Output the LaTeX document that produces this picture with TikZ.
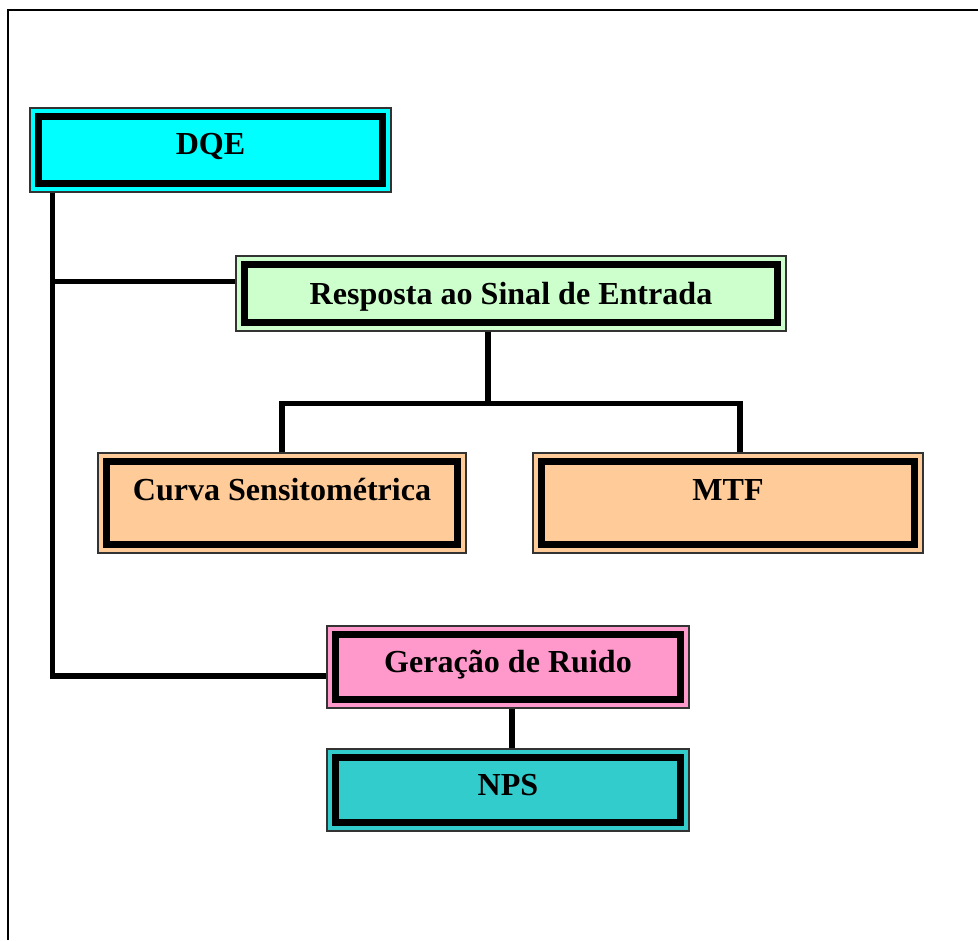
\documentclass[tikz,border=0pt]{standalone}
\usepackage{fontspec}
\setmainfont{Liberation Serif}
\usepackage{tikz}
\usetikzlibrary{calc}
\definecolor{dcyan}{HTML}{00FFFF}
\definecolor{lgreen}{HTML}{CCFFCC}
\definecolor{lpeach}{HTML}{FFCC99}
\definecolor{lpink}{HTML}{FF99CC}
\definecolor{dteal}{HTML}{33CCCC}
\definecolor{dgray}{HTML}{333333}

\begin{document}
\begin{tikzpicture}[x=0.025cm, y=-0.025cm,
    box/.style={rectangle, draw=dgray, line width=0.8pt, align=center, inner sep=0pt,
        font=\fontsize{22.8}{27}\selectfont\bfseries, text height=16pt, text depth=4pt,
        path picture={\draw[line width=4.8pt, black]
            ([xshift=5.8pt, yshift=-5.8pt]path picture bounding box.north west) rectangle
            ([xshift=-5.8pt, yshift=5.8pt]path picture bounding box.south east);}},
    lift/.style={text depth=#1},
    conn/.style={line width=4pt, black},
]
\useasboundingbox (0,0) rectangle (978,940);

% Frame
\draw[line width=1.4pt] (978,10) -- (8,10) -- (8,940);

% Boxes
\node[box, lift=9.4pt, fill=dcyan, minimum width=361*0.025cm, minimum height=84*0.025cm] (dqe) at (210.5,150) {DQE};
\node[box, lift=1pt, fill=lgreen, minimum width=550*0.025cm, minimum height=75*0.025cm] (resp) at (511,293.5) {Resposta ao Sinal de Entrada};
\node[box, lift=19pt, fill=lpeach, minimum width=368*0.025cm, minimum height=100*0.025cm] (curva) at (282,503) {Curva Sensitométrica};
\node[box, lift=19pt, fill=lpeach, minimum width=390*0.025cm, minimum height=100*0.025cm] (mtf) at (728,503) {MTF};
\node[box, lift=7.8pt, fill=lpink, minimum width=362*0.025cm, minimum height=82*0.025cm] (ger) at (508,667) {Geração de Ruido};
\node[box, lift=7.8pt, fill=dteal, minimum width=362*0.025cm, minimum height=82*0.025cm] (nps) at (508,790) {NPS};

% Connectors
\coordinate (trunk) at ($(dqe.south west)+(23,0)$);
\coordinate (respw) at ($(resp.west)+(0,-12)$);
\draw[conn] (trunk) |- ($(ger.west)+(0,9)$);
\draw[conn] (trunk |- respw) -- (respw);
\draw[conn] ($(resp.south)+(-23,0)$) -- ++(0,72) coordinate (bus);
\draw[conn] (curva.north) |- (bus);
\draw[conn] ($(mtf.north)+(12,0)$) |- (bus);
\draw[conn] ($(ger.south)+(4,0)$) -- ($(nps.north)+(4,0)$);

\end{tikzpicture}
\end{document}
